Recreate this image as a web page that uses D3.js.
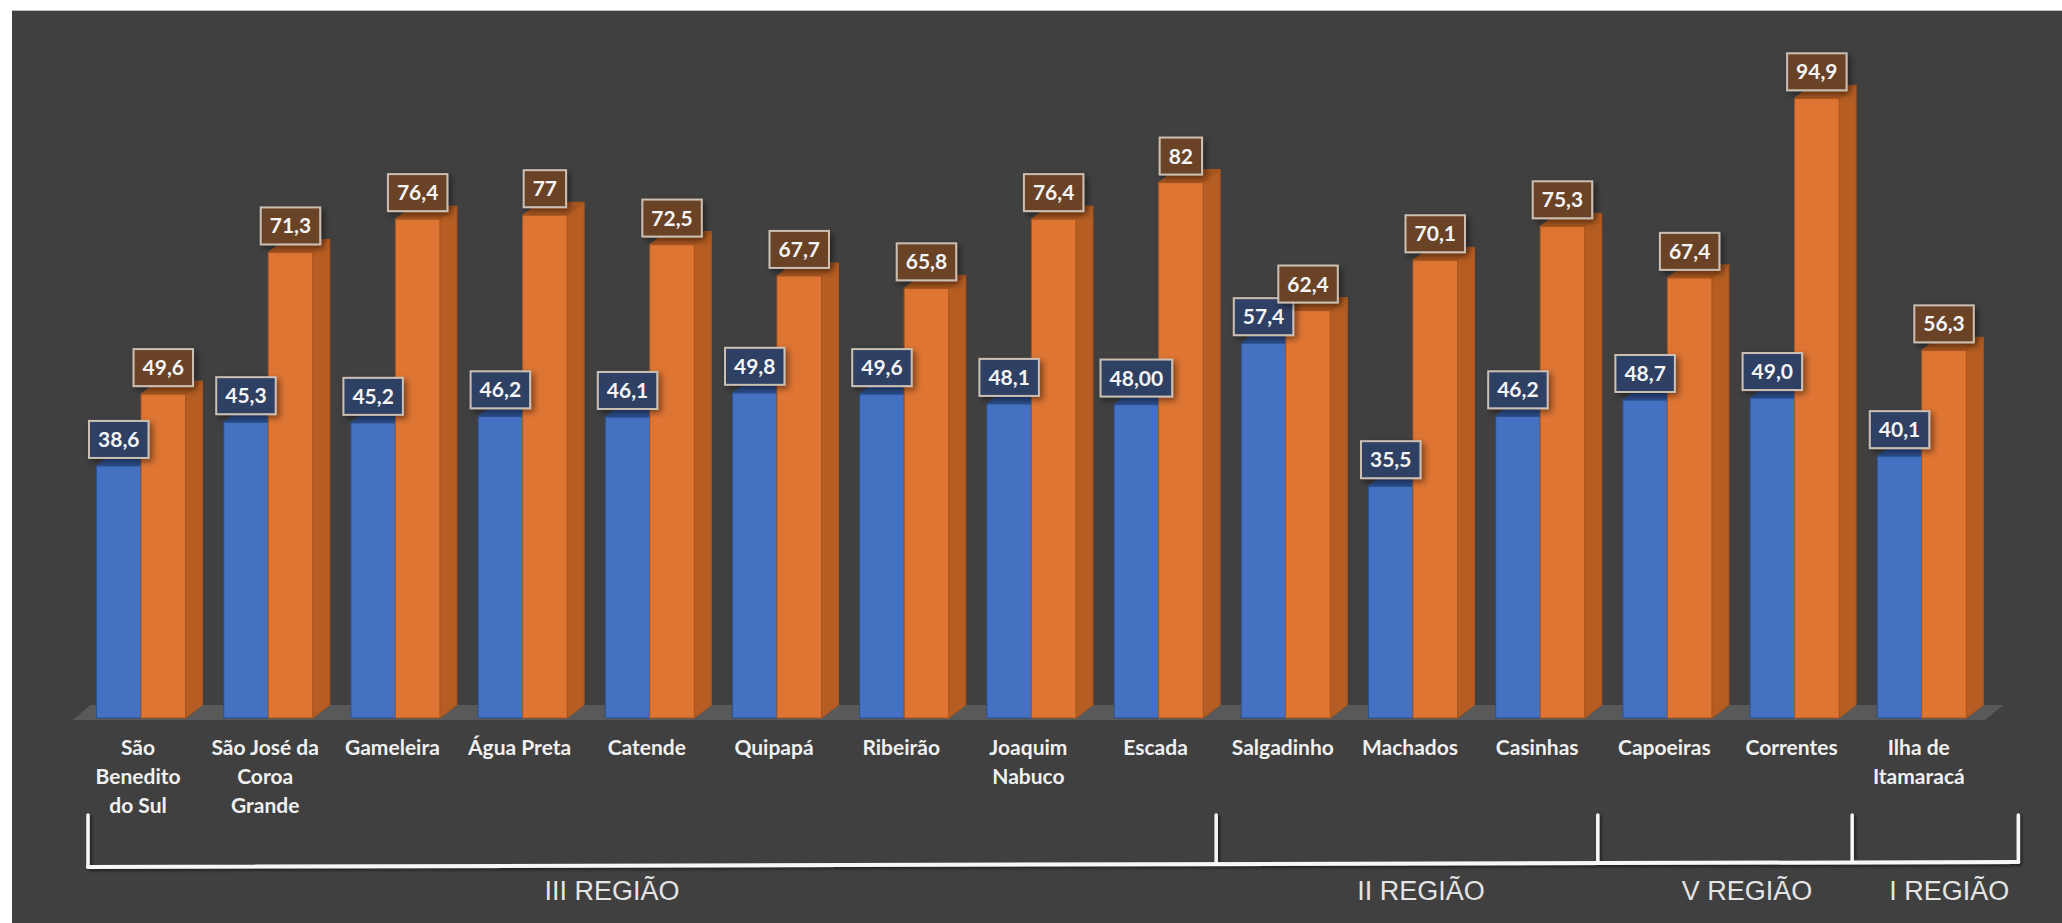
<!DOCTYPE html>
<html>
<head>
<meta charset="utf-8">
<script src="https://cdn.jsdelivr.net/npm/d3@7"></script>
<style>
  html, body { margin: 0; padding: 0; background: #ffffff; }
  svg { display: block; }
</style>
</head>
<body>
<svg id="chart" width="2062" height="923"></svg>
<script>
// Municípios (eixo das categorias), com a quebra de linha dos rótulos
const categories = [
  "São Benedito do Sul", "São José da Coroa Grande", "Gameleira", "Água Preta",
  "Catende", "Quipapá", "Ribeirão", "Joaquim Nabuco", "Escada", "Salgadinho",
  "Machados", "Casinhas", "Capoeiras", "Correntes", "Ilha de Itamaracá"
];
const categoryLines = [
  ["São", "Benedito", "do Sul"], ["São José da", "Coroa", "Grande"], ["Gameleira"],
  ["Água Preta"], ["Catende"], ["Quipapá"], ["Ribeirão"], ["Joaquim", "Nabuco"],
  ["Escada"], ["Salgadinho"], ["Machados"], ["Casinhas"], ["Capoeiras"],
  ["Correntes"], ["Ilha de", "Itamaracá"]
];

// Série azul e série laranja
const valoresAzul = [38.6, 45.3, 45.2, 46.2, 46.1, 49.8, 49.6, 48.1, 48.0, 57.4, 35.5, 46.2, 48.7, 49.0, 40.1];
const valoresLaranja = [49.6, 71.3, 76.4, 77, 72.5, 67.7, 65.8, 76.4, 82, 62.4, 70.1, 75.3, 67.4, 94.9, 56.3];

// Rótulos de dados, como aparecem sobre as barras
const rotulosAzul = ["38,6", "45,3", "45,2", "46,2", "46,1", "49,8", "49,6", "48,1", "48,00", "57,4", "35,5", "46,2", "48,7", "49,0", "40,1"];
const rotulosLaranja = ["49,6", "71,3", "76,4", "77", "72,5", "67,7", "65,8", "76,4", "82", "62,4", "70,1", "75,3", "67,4", "94,9", "56,3"];

// Regiões: nome, primeiro e último município de cada uma
const regioes = ["III REGIÃO", "II REGIÃO", "V REGIÃO", "I REGIÃO"];
const regiaoInicio = [0, 9, 12, 14];
const regiaoFim = [8, 11, 13, 14];

const W = 2062, H = 923;
const svg = d3.select("#chart");

const defs = svg.append("defs");
const sh = defs.append("filter").attr("id", "sombra")
  .attr("x", "-30%").attr("y", "-30%").attr("width", "170%").attr("height", "170%");
sh.append("feDropShadow").attr("dx", 3).attr("dy", 3).attr("stdDeviation", 3)
  .attr("flood-color", "#000").attr("flood-opacity", 0.45);
const shl = defs.append("filter").attr("id", "sombraLinha")
  .attr("x", "-10%").attr("y", "-50%").attr("width", "120%").attr("height", "200%");
shl.append("feDropShadow").attr("dx", 2).attr("dy", 2).attr("stdDeviation", 1.5)
  .attr("flood-color", "#000").attr("flood-opacity", 0.5);

// Painel escuro
svg.append("rect").attr("x", 12).attr("y", 10).attr("width", W - 12).attr("height", H - 10)
  .attr("fill", "#404040");
svg.append("line").attr("x1", 12).attr("x2", W).attr("y1", 10.5).attr("y2", 10.5)
  .attr("stroke", "#bdbdbd").attr("stroke-width", 1);

// Escalas
const baseY = 718;
const y = d3.scaleLinear().domain([0, 100]).range([baseY, 65]);
const x = d3.scaleBand().domain(categories).range([96.5, 1966.3]).paddingInner(0.3).paddingOuter(0);
const serieKeys = ["azul", "laranja"];
const xs = d3.scaleBand().domain(serieKeys).range([0, x.bandwidth()]);
const DX = 17, DY = 13;   // profundidade do efeito 3D

const estilos = {
  azul:    { front: "#4471c1", top: "#2c4d8c", side: "#2f5597", stroke: "#2b4f8e", box: "#2e4063" },
  laranja: { front: "#de7533", top: "#a9561f", side: "#b55d22", stroke: "#a9561f", box: "#6b4328" }
};

// Piso
const x0 = x.range()[0], x1 = x.range()[1];
svg.append("polygon")
  .attr("points", [
    [x0 - 24, baseY + 2], [x1 + 19, baseY + 2],
    [x1 + 19 + DX + 1, baseY + 2 - DY - 2], [x0 - 24 + DX + 1, baseY + 2 - DY - 2]
  ].map(p => p.join(",")).join(" "))
  .attr("fill", "#595959");

// Barras 3D
const dados = categories.map((c, i) => ({
  cat: c,
  azul: valoresAzul[i], laranja: valoresLaranja[i],
  rAzul: rotulosAzul[i], rLaranja: rotulosLaranja[i]
}));

const gBars = svg.append("g");
dados.forEach(d => {
  serieKeys.forEach(k => {
    const st = estilos[k];
    const bx = x(d.cat) + xs(k), bw = xs.bandwidth();
    const yt = y(d[k]);
    const g = gBars.append("g");
    // lateral
    g.append("polygon")
      .attr("points", [[bx + bw, yt], [bx + bw + DX, yt - DY], [bx + bw + DX, baseY - DY], [bx + bw, baseY]]
        .map(p => p.join(",")).join(" "))
      .attr("fill", st.side).attr("stroke", st.stroke).attr("stroke-width", 1);
    // topo
    g.append("polygon")
      .attr("points", [[bx, yt], [bx + DX, yt - DY], [bx + bw + DX, yt - DY], [bx + bw, yt]]
        .map(p => p.join(",")).join(" "))
      .attr("fill", st.top).attr("stroke", st.stroke).attr("stroke-width", 1);
    // frente
    g.append("rect").attr("x", bx).attr("y", yt).attr("width", bw).attr("height", baseY - yt)
      .attr("fill", st.front).attr("stroke", st.stroke).attr("stroke-width", 1);
  });
});

// Rótulos de dados em caixas
const gLab = svg.append("g");
dados.forEach(d => {
  serieKeys.forEach(k => {
    const st = estilos[k];
    const cx = x(d.cat) + xs(k) + xs.bandwidth() / 2;
    const yt = y(d[k]);
    const txt = k === "azul" ? d.rAzul : d.rLaranja;
    const g = gLab.append("g");
    const rect = g.append("rect");
    const t = g.append("text")
      .attr("x", cx).attr("y", yt - 8 - 37 / 2 + 7.5)
      .attr("text-anchor", "middle")
      .attr("font-family", "Lato, 'Open Sans', sans-serif")
      .attr("font-weight", 700).attr("font-size", 21)
      .attr("fill", "#f4f4f4")
      .text(txt);
    const tw = t.node().getComputedTextLength();
    const bwid = tw + 18;
    rect.attr("x", cx - bwid / 2).attr("y", yt - 8 - 37)
      .attr("width", bwid).attr("height", 37)
      .attr("fill", st.box).attr("stroke", "#cbbfb4").attr("stroke-width", 2)
      .attr("filter", "url(#sombra)");
  });
});

// Rótulos das categorias
const gCat = svg.append("g");
categories.forEach((c, i) => {
  const t = gCat.append("text")
    .attr("text-anchor", "middle")
    .attr("font-family", "Lato, 'Open Sans', sans-serif")
    .attr("font-weight", 700).attr("font-size", 21)
    .attr("fill", "#f0f0f0");
  categoryLines[i].forEach((ln, j) => {
    t.append("tspan").attr("x", x(c) + x.bandwidth() / 2 - 3).attr("y", 755 + j * 29).text(ln);
  });
});

// Chaves das regiões
const left = x(categories[0]) - 8.5;
const right = x(categories[categories.length - 1]) + x.bandwidth() + 52;
const yL = 867, yR = 862, topTick = 815;
const yLine = px => yL + (yR - yL) * (px - left) / (right - left);
const divisas = [left];
for (let r = 0; r < regioes.length - 1; r++) {
  const a = x(categories[regiaoFim[r]]) + x.bandwidth();
  const b = x(categories[regiaoInicio[r + 1]]);
  divisas.push((a + b) / 2 - 6);
}
divisas.push(right);

const gBr = svg.append("g").attr("filter", "url(#sombraLinha)");
gBr.append("line").attr("x1", left).attr("y1", yLine(left)).attr("x2", right).attr("y2", yLine(right))
  .attr("stroke", "#f7f7f7").attr("stroke-width", 4).attr("stroke-linecap", "round");
divisas.forEach(px => {
  gBr.append("line").attr("x1", px).attr("x2", px).attr("y1", topTick).attr("y2", yLine(px))
    .attr("stroke", "#f7f7f7").attr("stroke-width", 3.5).attr("stroke-linecap", "round");
});

const ajusteRotulo = [-40, 14, 22, 14];
regioes.forEach((nome, r) => {
  const cx = (divisas[r] + divisas[r + 1]) / 2 + ajusteRotulo[r];
  svg.append("text").attr("x", cx).attr("y", 900)
    .attr("text-anchor", "middle")
    .attr("font-family", "'Liberation Sans', Arial, sans-serif")
    .attr("font-size", 27).attr("fill", "#e4e4e4")
    .text(nome);
});
</script>
</body>
</html>
